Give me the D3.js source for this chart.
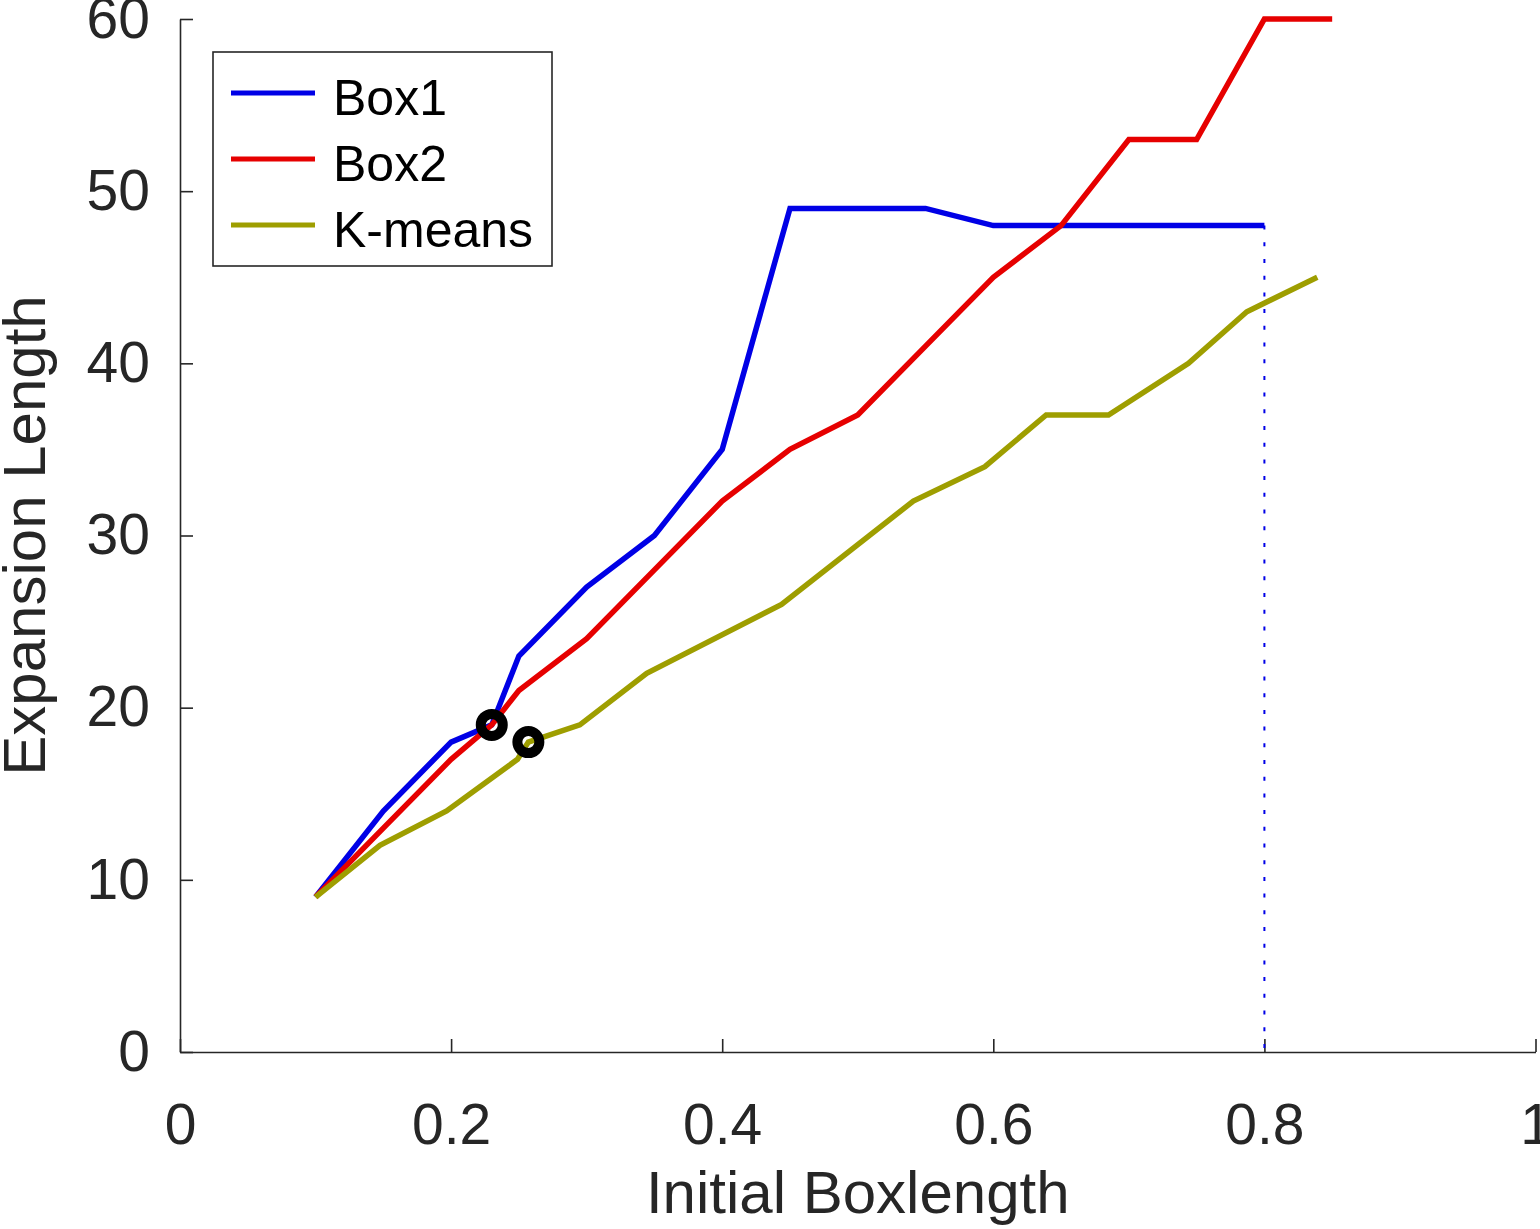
<!DOCTYPE html>
<html>
<head>
<meta charset="utf-8">
<script src="https://cdn.jsdelivr.net/npm/d3@7"></script>
<style>
  html, body { margin: 0; padding: 0; background: #fff; }
  svg { display: block; font-family: "Liberation Sans", Arial, Helvetica, sans-serif; }
  .axis path, .axis line { stroke: #262626; stroke-width: 1.6; }
  .axis text { fill: #262626; font-size: 57px; }
</style>
</head>
<body>
<div id="chart"></div>
<script>
/* Expansion length vs initial box length, three methods. */

var box1X = [0.1, 0.15, 0.2, 0.23, 0.25, 0.3, 0.35, 0.4, 0.45, 0.5, 0.55, 0.6, 0.65, 0.7, 0.75, 0.8];
var box1Y = [9, 14, 18, 19, 23, 27, 30, 35, 49, 49, 49, 48, 48, 48, 48, 48];

var box2X = [0.1, 0.15, 0.2, 0.23, 0.25, 0.3, 0.35, 0.4, 0.45, 0.5, 0.55, 0.6, 0.65, 0.7, 0.75, 0.8, 0.85];
var box2Y = [9, 13, 17, 19, 21, 24, 28, 32, 35, 37, 41, 45, 48, 53, 53, 60, 60];

var kmeansX = [0.1, 0.1475, 0.1967, 0.249, 0.257, 0.295, 0.3443, 0.4438, 0.541, 0.5938, 0.639, 0.685, 0.744, 0.787, 0.839];
var kmeansY = [9, 12, 14, 17, 18, 19, 22, 26, 32, 34, 37, 37, 40, 43, 45];

var markerX = [0.23, 0.257];
var markerY = [19, 18];

var xTicks = [0, 0.2, 0.4, 0.6, 0.8, 1];
var yTicks = [0, 10, 20, 30, 40, 50, 60];

var seriesNames = ["Box1", "Box2", "K-means"];
var seriesColors = ["#0000e6", "#e60000", "#9e9e00"];

var d3 = window.d3;
var width = 1540, height = 1229;
var margin = { top: 19, right: 4.5, bottom: 177, left: 180 };
var innerW = width - margin.left - margin.right;
var innerH = height - margin.top - margin.bottom;

var svg = d3.select("#chart").append("svg")
  .attr("width", width).attr("height", height)
  .attr("viewBox", "0 0 " + width + " " + height);

var g = svg.append("g").attr("transform", "translate(" + margin.left + "," + margin.top + ")");

var x = d3.scaleLinear().domain([0, 1]).range([0, innerW]);
var y = d3.scaleLinear().domain([0, 60]).range([innerH, 0]);

/* axes, ticks inward */
var xAxis = g.append("g").attr("class", "axis").attr("transform", "translate(0," + innerH + ")")
  .call(d3.axisBottom(x).tickValues(xTicks).tickSizeInner(-13).tickSizeOuter(0).tickPadding(52)
    .tickFormat(function (v) { return v === 0 || v === 1 ? String(v) : v.toFixed(1); }));
xAxis.selectAll("text").attr("dy", "0.71em");

g.append("g").attr("class", "axis")
  .call(d3.axisLeft(y).tickValues(yTicks).tickSizeInner(-13).tickSizeOuter(0).tickPadding(30)
    .tickFormat(d3.format("d")));

/* dotted drop line at the end of Box1 */
g.append("line")
  .attr("x1", x(box1X[box1X.length - 1])).attr("x2", x(box1X[box1X.length - 1]))
  .attr("y1", y(box1Y[box1Y.length - 1])).attr("y2", y(0))
  .attr("stroke", seriesColors[0]).attr("stroke-width", 2)
  .attr("stroke-dasharray", "4,12.7");

var line = d3.line()
  .x(function (d) { return x(d[0]); })
  .y(function (d) { return y(d[1]); });

var seriesData = [
  d3.zip(box1X, box1Y),
  d3.zip(box2X, box2Y),
  d3.zip(kmeansX, kmeansY)
];

seriesData.forEach(function (pts, i) {
  g.append("path")
    .datum(pts)
    .attr("d", line)
    .attr("fill", "none")
    .attr("stroke", seriesColors[i])
    .attr("stroke-width", 5.5)
    .attr("stroke-linejoin", "miter");
});

g.selectAll("circle.mark")
  .data(d3.zip(markerX, markerY))
  .enter().append("circle")
  .attr("class", "mark")
  .attr("cx", function (d) { return x(d[0]); })
  .attr("cy", function (d) { return y(d[1]); })
  .attr("r", 11)
  .attr("fill", "none")
  .attr("stroke", "#000")
  .attr("stroke-width", 10);

/* axis labels */
svg.append("text")
  .attr("x", margin.left + innerW / 2).attr("y", 1213)
  .attr("text-anchor", "middle")
  .attr("fill", "#262626").attr("font-size", 60)
  .text("Initial Boxlength");

svg.append("text")
  .attr("transform", "translate(45," + (margin.top + innerH / 2) + ") rotate(-90)")
  .attr("text-anchor", "middle")
  .attr("fill", "#262626").attr("font-size", 60)
  .text("Expansion Length");

/* legend */
var lg = svg.append("g").attr("transform", "translate(213,52)");
lg.append("rect").attr("width", 339).attr("height", 214)
  .attr("fill", "#fff").attr("stroke", "#262626").attr("stroke-width", 1.6);
seriesNames.forEach(function (name, i) {
  var yy = 41 + i * 66;
  lg.append("line").attr("x1", 18).attr("x2", 102).attr("y1", yy).attr("y2", yy)
    .attr("stroke", seriesColors[i]).attr("stroke-width", 5);
  lg.append("text").attr("x", 120).attr("y", yy).attr("dy", "0.44em")
    .attr("font-size", 50).attr("fill", "#000").text(name);
});
</script>
</body>
</html>
